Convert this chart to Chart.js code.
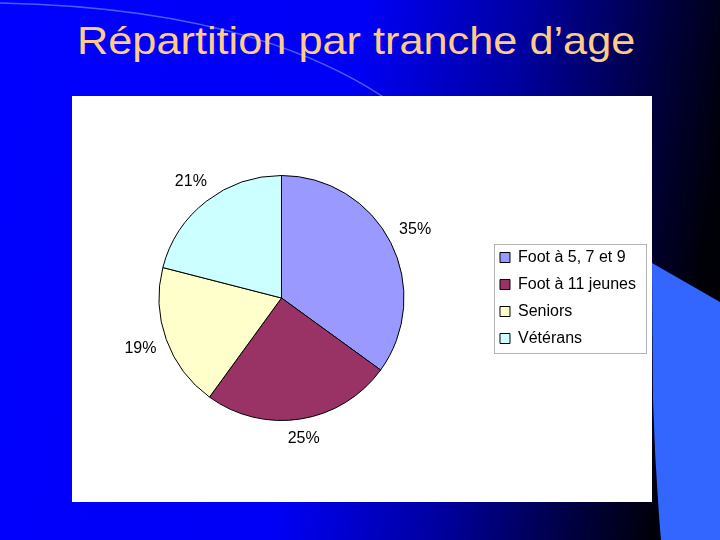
<!DOCTYPE html>
<html>
<head>
<meta charset="utf-8">
<script src="https://cdn.jsdelivr.net/npm/chart.js@4.4.1/dist/chart.umd.min.js"></script>
<style>
html,body{margin:0;padding:0;}
body{width:720px;height:540px;position:relative;overflow:hidden;
  background:linear-gradient(100deg,#0000ff 0%,#0000f6 45%,#0000a0 65%,#00004a 80%,#000008 92%,#000000 100%);
  font-family:"Liberation Sans",Arial,sans-serif;}
#deco{position:absolute;left:0;top:0;}
#title{position:absolute;left:77px;top:21px;font-size:39px;line-height:39px;color:#ffcc88;white-space:nowrap;
  transform:scaleX(1.11);transform-origin:0 0;}
#panel{position:absolute;left:72px;top:96px;width:580px;height:406px;background:#ffffff;}
#panel canvas{display:block;}
</style>
</head>
<body>
<svg id="deco" width="720" height="540" xmlns="http://www.w3.org/2000/svg">
  <path d="M0,3 Q250,8 385,98" fill="none" stroke="rgba(130,170,255,0.55)" stroke-width="1.5"/>
  <path d="M652,263 L720,302 L720,540 L661,540 Q655,470 653,400 Z" fill="#3366ff"/>
</svg>
<div id="title">Répartition par tranche d’age</div>
<div id="panel"><canvas id="c" width="580" height="406"></canvas></div>
<script>
const categories = ['Foot à 5, 7 et 9', 'Foot à 11 jeunes', 'Seniors', 'Vétérans'];
const shares = [35, 25, 19, 21];
const sliceColors = ['#9999ff', '#993366', '#ffffcc', '#ccffff'];

const FONT = '"Liberation Sans", Arial, sans-serif';

const pctLabels = {
  id: 'pctLabels',
  afterDatasetsDraw(chart) {
    const ctx = chart.ctx;
    const meta = chart.getDatasetMeta(0);
    ctx.save();
    ctx.font = '16px ' + FONT;
    ctx.fillStyle = '#000';
    ctx.textAlign = 'center';
    ctx.textBaseline = 'middle';
    meta.data.forEach((arc, i) => {
      const p = arc.getProps(['x', 'y', 'startAngle', 'endAngle', 'outerRadius'], true);
      const mid = (p.startAngle + p.endAngle) / 2;
      const txt = shares[i] + '%';
      const w = ctx.measureText(txt).width;
      const c = Math.cos(mid), s = Math.sin(mid);
      const d = p.outerRadius + 10 + Math.abs(c) * w / 2 + Math.abs(s) * 7;
      ctx.fillText(txt, p.x + c * d, p.y + s * d);
    });
    ctx.restore();
  }
};

const legendFrame = {
  id: 'legendFrame',
  afterDraw(chart) {
    const lg = chart.legend;
    if (!lg || !lg.legendHitBoxes || !lg.legendHitBoxes.length) return;
    let l = Infinity, t = Infinity, r = -Infinity, b = -Infinity;
    lg.legendHitBoxes.forEach(h => {
      l = Math.min(l, h.left); t = Math.min(t, h.top);
      r = Math.max(r, h.left + h.width); b = Math.max(b, h.top + h.height);
    });
    const ctx = chart.ctx;
    ctx.save();
    ctx.strokeStyle = '#b4b4b4';
    ctx.lineWidth = 1;
    const x0 = Math.round(l - 6) + 0.5, y0 = Math.round(t - 6) + 0.5;
    const x1 = Math.round(r + 10) + 0.5, y1 = Math.round(b + 6) + 0.5;
    ctx.strokeRect(x0, y0, x1 - x0, y1 - y0);
    ctx.restore();
  }
};

new Chart(document.getElementById('c'), {
  type: 'pie',
  data: {
    labels: categories,
    datasets: [{
      data: shares,
      backgroundColor: sliceColors,
      borderColor: '#000000',
      borderWidth: 1
    }]
  },
  options: {
    responsive: false,
    animation: false,
    devicePixelRatio: 1,
    layout: { padding: { top: 79, bottom: 81, left: 2, right: 6 } },
    plugins: {
      tooltip: { enabled: false },
      legend: {
        position: 'right',
        labels: {
          font: { family: FONT, size: 16 },
          color: '#000000',
          boxWidth: 10,
          boxHeight: 10,
          padding: 11
        }
      }
    }
  },
  plugins: [pctLabels, legendFrame]
});
</script>
</body>
</html>
